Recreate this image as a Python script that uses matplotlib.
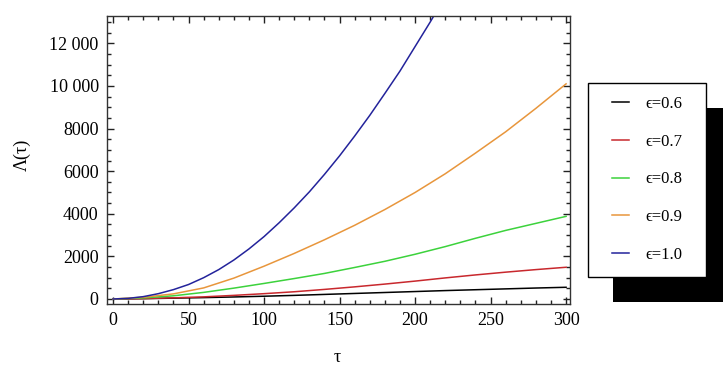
import matplotlib
matplotlib.use("Agg")
import matplotlib.pyplot as plt
from matplotlib.patches import Rectangle
from matplotlib.ticker import MultipleLocator, FuncFormatter

plt.rcParams['font.family'] = ['Liberation Serif', 'DejaVu Serif']

tau = [0, 20, 40, 60, 80, 100, 120, 140, 160, 180, 200, 220, 240, 260, 280, 300]
tau_blue = [0, 10, 20, 30, 40, 50, 60, 70, 80, 90, 100, 110, 120, 130, 140, 150,
            160, 170, 180, 190, 200, 210, 220]

eps06 = [0, 15, 40, 65, 95, 130, 170, 215, 260, 305, 350, 395, 435, 475, 515, 550]
eps07 = [0, 20, 55, 100, 170, 250, 340, 450, 570, 700, 840, 990, 1130, 1260, 1380, 1490]
eps08 = [0, 50, 150, 310, 510, 730, 960, 1200, 1480, 1770, 2100, 2460, 2850, 3220,
         3550, 3880]
eps09 = [0, 80, 240, 520, 980, 1540, 2140, 2780, 3460, 4200, 5000, 5880, 6850, 7850,
         8950, 10100]
eps10 = [0, 30, 110, 250, 440, 680, 1000, 1380, 1830, 2350, 2930, 3580, 4280, 5030,
         5850, 6720, 7650, 8620, 9650, 10700, 11850, 13000, 14200]

labels = ['ϵ=0.6', 'ϵ=0.7', 'ϵ=0.8', 'ϵ=0.9', 'ϵ=1.0']
colors = ['#000000', '#c8282d', '#3cd23c', '#e8963c', '#23239b']

W, H = 723, 365
fig = plt.figure(figsize=(W / 100, H / 100), dpi=100)
ax = fig.add_axes([107 / W, 1 - 304 / H, (570 - 107) / W, (304 - 16) / H])

series = [(tau, eps06), (tau, eps07), (tau, eps08), (tau, eps09), (tau_blue, eps10)]
lines = []
for (x, y), lab, c in zip(series, labels, colors):
    ln, = ax.plot(x, y, color=c, lw=1.1, label=lab)
    lines.append(ln)

ax.set_xlim(-4, 302.6)
ax.set_ylim(-235, 13286)
ax.xaxis.set_major_locator(MultipleLocator(50))
ax.xaxis.set_minor_locator(MultipleLocator(10))
ax.yaxis.set_major_locator(MultipleLocator(2000))
ax.yaxis.set_minor_locator(MultipleLocator(500))


def yfmt(v, pos):
    v = int(round(v))
    if v >= 10000:
        s = f"{v:d}"
        return s[:-3] + " " + s[-3:]
    return f"{v:d}"


ax.yaxis.set_major_formatter(FuncFormatter(yfmt))
ax.tick_params(which='both', direction='in', top=True, right=True,
               labelsize=13, width=1.0, color='#222222')
ax.tick_params(which='major', length=5, pad=6)
ax.tick_params(which='minor', length=3)
for s in ax.spines.values():
    s.set_linewidth(1.0)
    s.set_color('#333333')

fig.text(337 / W, 1 - 357 / H, 'τ', ha='center', va='center', fontsize=13)
fig.text(22 / W, 1 - 155 / H, 'Λ(τ)', ha='center', va='center', fontsize=13,
         rotation=90)

# legend frame and its shadow (pixel placement of the box)
shadow = Rectangle((613 / W, 1 - 302 / H), 118 / W, 194 / H,
                   transform=fig.transFigure, facecolor='black', edgecolor='none',
                   zorder=5)
frame = Rectangle((588 / W, 1 - 277 / H), 118 / W, 194 / H,
                  transform=fig.transFigure, facecolor='white', edgecolor='black',
                  lw=1.0, zorder=6)
fig.patches.extend([shadow, frame])

leg = fig.legend(handles=lines, labels=labels, loc='upper left',
                 bbox_to_anchor=(612 / W, 1 - 96 / H), fontsize=12,
                 frameon=False, handlelength=1.0, handletextpad=1.0,
                 labelspacing=1.3, borderpad=0, borderaxespad=0)
leg.set_zorder(10)

fig.savefig('out.png', dpi=100)
